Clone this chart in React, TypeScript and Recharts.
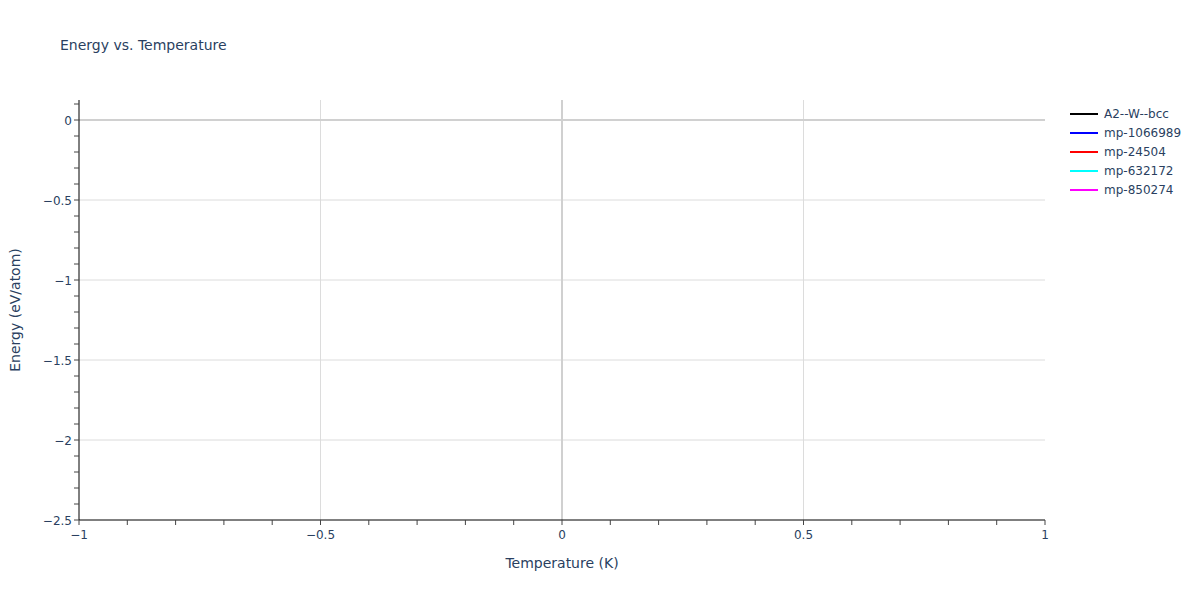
import { Line, LineChart, ReferenceLine, XAxis, YAxis } from 'recharts'

const seriesNames = ['A2--W--bcc', 'mp-1066989', 'mp-24504', 'mp-632172', 'mp-850274']
const seriesColors = ['#000000', '#0000ff', '#ff0000', '#00ffff', '#ff00ff']
// no temperature points were plotted for any structure
const seriesValues: { temperature: number; energy: number }[][] = [[], [], [], [], []]

const xTicks = [-1, -0.9, -0.8, -0.7, -0.6, -0.5, -0.4, -0.3, -0.2, -0.1, 0, 0.1, 0.2, 0.3, 0.4, 0.5, 0.6, 0.7, 0.8, 0.9, 1]
const yTicks = [
  -2.5, -2.4, -2.3, -2.2, -2.1, -2, -1.9, -1.8, -1.7, -1.6, -1.5, -1.4, -1.3, -1.2, -1.1, -1, -0.9, -0.8, -0.7,
  -0.6, -0.5, -0.4, -0.3, -0.2, -0.1, 0, 0.1,
]
const xGrid = [-0.5, 0.5]
const yGrid = [-2, -1.5, -1, -0.5]

const FONT = '"DejaVu Sans", Verdana, sans-serif'
const INK = '#2a3f5f'

function isMajor(v: number) {
  return Math.abs(v * 2 - Math.round(v * 2)) < 1e-9
}

function fmt(v: number) {
  return String(v).replace('-', '\u2212')
}

function XTick(props: any) {
  const { x, y, payload } = props
  if (!isMajor(payload.value)) return <g />
  return (
    <text x={x} y={y} dy={11} textAnchor="middle" fill={INK} fontSize={12} fontFamily={FONT}>
      {fmt(payload.value)}
    </text>
  )
}

function YTick(props: any) {
  const { x, y, payload } = props
  if (!isMajor(payload.value)) return <g />
  return (
    <text x={x} y={y} dy={4.5} textAnchor="end" fill={INK} fontSize={12} fontFamily={FONT}>
      {fmt(payload.value)}
    </text>
  )
}

function LegendBox() {
  return (
    <div style={{ position: 'absolute', left: 1070, top: 104, fontFamily: FONT, fontSize: 12, color: INK }}>
      {seriesNames.map((name, i) => (
        <div key={name} style={{ display: 'flex', alignItems: 'center', height: 19 }}>
          <div style={{ width: 28, height: 2, background: seriesColors[i], marginRight: 6 }} />
          <span>{name}</span>
        </div>
      ))}
    </div>
  )
}

export default function App() {
  return (
    <div style={{ position: 'absolute', left: 0, top: 0, width: 1200, height: 600, background: '#fff' }}>
      <div
        style={{
          position: 'absolute',
          left: 60,
          top: 38,
          lineHeight: '14px',
          fontFamily: FONT,
          fontSize: 14,
          color: INK,
          zIndex: 1,
        }}
      >
        Energy vs. Temperature
      </div>
      <LineChart width={1200} height={600} margin={{ top: 100, right: 155, bottom: 50, left: 29 }}>
        <XAxis
          type="number"
          dataKey="temperature"
          domain={[-1, 1]}
          ticks={xTicks}
          interval={0}
          allowDataOverflow
          height={30}
          tick={XTick}
          tickSize={5}
          tickMargin={3}
          axisLine={{ stroke: '#000' }}
          tickLine={{ stroke: '#444' }}
          label={{ value: 'Temperature (K)', position: 'bottom', offset: 8, fill: INK, fontSize: 14, fontFamily: FONT }}
        />
        <YAxis
          type="number"
          dataKey="energy"
          domain={[-2.5, 0.125]}
          ticks={yTicks}
          interval={0}
          allowDataOverflow
          width={50}
          tick={YTick}
          tickSize={5}
          tickMargin={2}
          axisLine={{ stroke: '#000' }}
          tickLine={{ stroke: '#444' }}
          label={{
            content: () => (
              <text
                x={20}
                y={310}
                transform="rotate(-90 20 310)"
                textAnchor="middle"
                fill={INK}
                fontSize={14}
                fontFamily={FONT}
              >
                Energy (eV/atom)
              </text>
            ),
          }}
        />
        {xGrid.map((v) => (
          <ReferenceLine key={'x' + v} x={v} stroke="#dcdcdc" strokeWidth={1} />
        ))}
        {yGrid.map((v) => (
          <ReferenceLine key={'y' + v} y={v} stroke="#dcdcdc" strokeWidth={1} />
        ))}
        <ReferenceLine x={0} stroke="#d0d0d0" strokeWidth={2} />
        <ReferenceLine y={0} stroke="#d0d0d0" strokeWidth={2} />
        {seriesNames.map((name, i) => (
          <Line
            key={name}
            name={name}
            data={seriesValues[i]}
            dataKey="energy"
            stroke={seriesColors[i]}
            strokeWidth={2}
            dot={false}
            isAnimationActive={false}
          />
        ))}
      </LineChart>
      <LegendBox />
    </div>
  )
}
